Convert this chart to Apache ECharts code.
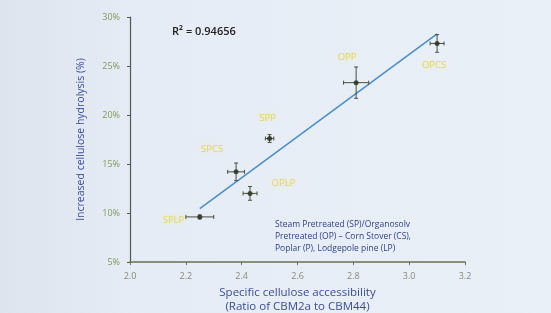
<!DOCTYPE html>
<html>
<head>
<meta charset="utf-8">
<script src="https://cdn.jsdelivr.net/npm/echarts@6/dist/echarts.min.js"></script>
<style>
html,body{margin:0;padding:0;}
#chart{width:551px;height:313px;}
</style>
</head>
<body>
<div id="chart"></div>
<script>
// ---- data ----
var names = ['SPLP', 'SPCS', 'OPLP', 'SPP', 'OPP', 'OPCS'];
var accessibility = [2.25, 2.38, 2.43, 2.50, 2.81, 3.10];
var hydrolysis = [9.6, 14.2, 12.0, 17.6, 23.3, 27.3];
var xErr = [0.05, 0.03, 0.025, 0.015, 0.045, 0.025];
var yErr = [0.2, 0.9, 0.7, 0.4, 1.6, 0.9];
var xTicks = [2.0, 2.2, 2.4, 2.6, 2.8, 3.0, 3.2];
var yTicks = [5, 10, 15, 20, 25, 30];
var r2Text = 'R\u00B2 = 0.94656';
var noteLines = ['Steam Pretreated (SP)/Organosolv', 'Pretreated (OP) \u2013 Corn Stover (CS),', 'Poplar (P), Lodgepole pine (LP)'];

// linear regression from data
var n = accessibility.length, mx = 0, my = 0;
for (var i = 0; i < n; i++) { mx += accessibility[i]; my += hydrolysis[i]; }
mx /= n; my /= n;
var sxy = 0, sxx = 0;
for (i = 0; i < n; i++) { sxy += (accessibility[i] - mx) * (hydrolysis[i] - my); sxx += (accessibility[i] - mx) * (accessibility[i] - mx); }
var slope = sxy / sxx, icpt = my - slope * mx;
var xmin = Math.min.apply(null, accessibility), xmax = Math.max.apply(null, accessibility);
var trend = [[xmin, icpt + slope * xmin], [xmax, icpt + slope * xmax]];

// label placement (style only)
var labelOffsets = {
  SPLP: { position: 'left', offset: [-8, 3] },
  SPCS: { position: 'top', offset: [-24, -10] },
  OPLP: { position: 'right', offset: [14, -10] },
  SPP: { position: 'top', offset: [-2, -8] },
  OPP: { position: 'top', offset: [-9, -13] },
  OPCS: { position: 'bottom', offset: [-3, 9] }
};

var pts = names.map(function (nm, k) {
  var lo = labelOffsets[nm];
  return {
    name: nm,
    value: [accessibility[k], hydrolysis[k]],
    label: { show: true, formatter: nm, position: lo.position, offset: lo.offset }
  };
});
var errData = names.map(function (nm, k) {
  return [accessibility[k], hydrolysis[k], xErr[k], yErr[k]];
});

var chart = echarts.init(document.getElementById('chart'));
chart.setOption({
  backgroundColor: {
    type: 'linear', x: 0, y: 0, x2: 1, y2: 0,
    colorStops: [{ offset: 0, color: '#dde4ee' }, { offset: 0.25, color: '#e6ecf5' }, { offset: 1, color: '#eaf0f8' }]
  },
  animation: false,
  grid: { left: 130, right: 86, top: 17, bottom: 51, outerBoundsMode: 'none', containLabel: false },
  xAxis: {
    type: 'value', min: 2.0, max: 3.2, interval: 0.2,
    axisLine: { show: true, lineStyle: { color: '#6a7052', width: 1.5 } },
    axisTick: { show: true, length: 3, lineStyle: { color: '#6a7052' } },
    splitLine: { show: false },
    axisLabel: { color: '#8a8a78', fontSize: 9, fontFamily: 'Open Sans', margin: 10,
      formatter: function (v) { return v.toFixed(1); } },
    name: 'Specific cellulose accessibility\n(Ratio of CBM2a to CBM44)',
    nameLocation: 'middle', nameGap: 22,
    nameTextStyle: { color: '#3a4c9e', fontSize: 11.5, fontFamily: 'Open Sans', lineHeight: 14 }
  },
  yAxis: {
    type: 'value', min: 5, max: 30, interval: 5,
    axisLine: { show: true, lineStyle: { color: '#555a50', width: 1.2 } },
    axisTick: { show: true, length: 3, lineStyle: { color: '#555a50' } },
    splitLine: { show: false },
    axisLabel: { color: '#7f9a5e', fontSize: 9, fontFamily: 'Open Sans', margin: 10,
      formatter: '{value}%' },
    name: 'Increased cellulose hydrolysis (%)',
    nameLocation: 'middle', nameGap: 43,
    nameTextStyle: { color: '#3a4c9e', fontSize: 10.5, fontFamily: 'Open Sans' }
  },
  graphic: [
    { type: 'text', left: 172, top: 26,
      style: { text: r2Text, fill: '#222', font: '600 11px "Open Sans"' } },
    { type: 'text', left: 275, top: 219,
      style: { text: noteLines.join('\n'), fill: '#2d3f8e', font: '8.5px "Open Sans"', lineHeight: 12 } }
  ],
  series: [
    {
      type: 'line', data: trend, symbol: 'none', silent: true,
      lineStyle: { color: '#4a8fcc', width: 1.6 }, z: 2
    },
    {
      type: 'custom', z: 3,
      renderItem: function (params, api) {
        var x = api.value(0), y = api.value(1), ex = api.value(2), ey = api.value(3);
        var l = api.coord([x - ex, y]), r = api.coord([x + ex, y]);
        var t = api.coord([x, y + ey]), b = api.coord([x, y - ey]);
        var c = 2;
        var st = { stroke: '#4d4c3c', lineWidth: 1 };
        return {
          type: 'group',
          children: [
            { type: 'line', shape: { x1: l[0], y1: l[1], x2: r[0], y2: r[1] }, style: st },
            { type: 'line', shape: { x1: l[0], y1: l[1] - c, x2: l[0], y2: l[1] + c }, style: st },
            { type: 'line', shape: { x1: r[0], y1: r[1] - c, x2: r[0], y2: r[1] + c }, style: st },
            { type: 'line', shape: { x1: t[0], y1: t[1], x2: b[0], y2: b[1] }, style: st },
            { type: 'line', shape: { x1: t[0] - c, y1: t[1], x2: t[0] + c, y2: t[1] }, style: st },
            { type: 'line', shape: { x1: b[0] - c, y1: b[1], x2: b[0] + c, y2: b[1] }, style: st }
          ]
        };
      },
      data: errData
    },
    {
      type: 'scatter', z: 4, symbolSize: 5,
      itemStyle: { color: '#22301c' },
      label: {
        color: '#e2d23a', fontSize: 9.5, fontFamily: 'Open Sans',
        textShadowColor: 'rgba(245,240,120,0.9)', textShadowBlur: 4
      },
      data: pts
    }
  ]
});
</script>
</body>
</html>
